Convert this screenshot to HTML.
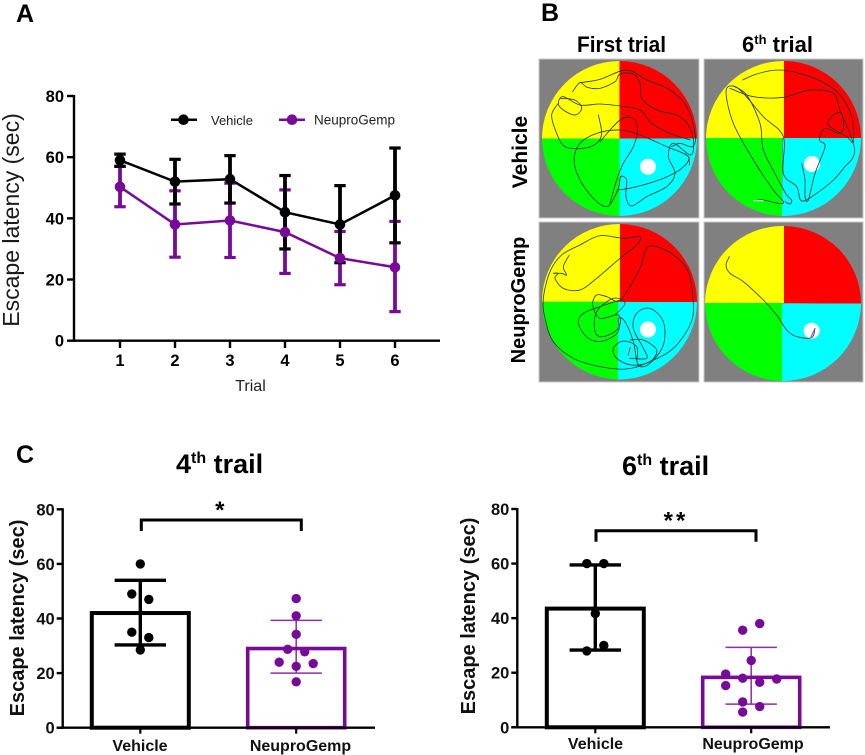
<!DOCTYPE html>
<html lang="en">
<head>
<meta charset="utf-8">
<title>Escape latency figure</title>
<style>
html,body{margin:0;padding:0;background:#fff;}
svg{display:block;font-family:"Liberation Sans",sans-serif;}
.track{fill:none;stroke:#24352c;stroke-width:2.4;stroke-linejoin:round;stroke-linecap:round;}
</style>
</head>
<body>
<svg id="figure" xmlns="http://www.w3.org/2000/svg" width="865" height="755" viewBox="0 0 865 755">
  <rect width="865" height="755" fill="#fff"/>
  <text x="16" y="22" font-size="25" font-weight="700">A</text>
  <text x="541" y="21" font-size="25" font-weight="700">B</text>
  <text x="16" y="463" font-size="25" font-weight="700">C</text>

  <g id="chartA"></g>

  <g>
    <text x="577" y="52" font-size="22" font-weight="700" textLength="89" lengthAdjust="spacingAndGlyphs">First trial</text>
    <text x="742" y="52" font-size="22" font-weight="700">6<tspan font-size="13" dy="-8">th</tspan><tspan dy="8"> trial</tspan></text>
    <text transform="translate(527,152) rotate(-90)" text-anchor="middle" font-size="21" font-weight="700">Vehicle</text>
    <text transform="translate(525,300) rotate(-90)" text-anchor="middle" font-size="20" font-weight="700">NeuproGemp</text>

    <g>
      <rect x="539" y="59" width="160" height="159" fill="#808080" stroke="#c8c8c8" stroke-width="1"/>
      <path d="M619.5 138.5V61A77.5 77.5 0 0 0 542 138.5Z" fill="#ffff00"/>
      <path d="M619.5 138.5V61A77.5 77.5 0 0 1 697 138.5Z" fill="#ff0000"/>
      <path d="M619.5 138.5H542A77.5 77.5 0 0 0 619.5 216Z" fill="#00ff00"/>
      <path d="M619.5 138.5H697A77.5 77.5 0 0 1 619.5 216Z" fill="#00ffff"/>
      <circle cx="648" cy="166.7" r="8" fill="#fff"/>
      <g transform="translate(500,0) scale(0.33333)">
        <polyline class="track" points="218,275 240,248 262,262 300,265 345,245 360,222 400,222 420,250 425,295 470,330 530,345 565,375 580,420 572,465 520,430 505,470 525,520 500,560 440,590 395,618 378,590 380,540 362,530 355,565 325,618 285,600 240,540 222,480 240,430 290,400 360,390 420,405 500,440 565,470 545,505 490,535 410,560 355,570"/>
        <polyline class="track" points="240,248 300,238 380,210 440,240 510,270 560,320 585,400 578,440 540,430 515,440"/>
        <polyline class="track" points="180,295 225,300 245,325 225,345 190,330 175,310 190,290 240,315 300,312 360,318 420,330 455,370 510,400 570,420"/>
        <polyline class="track" points="175,310 155,345 170,400 195,440 250,445 290,430 305,400 295,345"/>
        <polyline class="track" points="300,425 360,360 400,355 412,390 400,440 370,490 350,540 330,610"/>
        <path d="M568 472V496" stroke="#e33" stroke-width="3"/>
      </g>
    </g>

    <g>
      <rect x="704" y="59" width="159" height="159" fill="#808080" stroke="#c8c8c8" stroke-width="1"/>
      <path d="M784 138V61A77.5 77.5 0 0 0 706 138Z" fill="#ffff00"/>
      <path d="M784 138V61A77.5 77.5 0 0 1 861 138Z" fill="#ff0000"/>
      <path d="M784 138H706A78 78 0 0 0 782 216V138Z" fill="#00ff00"/>
      <path d="M783 138H861A78 78 0 0 1 782 216Z" fill="#00ffff"/>
      <circle cx="812" cy="164" r="8" fill="#fff"/>
      <g transform="translate(500,0) scale(0.33333)">
        <polyline class="track" points="728,240 770,222 830,210 890,218 965,245 1020,285 1055,350 1060,425 1040,410 985,375 1000,345 1025,340 1030,385 1015,400 975,385 958,420 975,440 945,520 925,600 915,590 915,540 905,490"/>
        <polyline class="track" points="690,265 760,290 850,292 930,270 1000,280 1020,330 1060,430 1060,470 1035,500 1000,540 950,580 905,603 890,560 850,520 850,410 790,350 730,280 700,258 678,275 700,370 760,480 820,570 850,605 835,610 790,600 765,602"/>
        <polyline class="track" points="700,258 740,285 780,370 790,450 830,530 860,585 875,600 870,612 855,605"/>
        <path d="M760 602H790" stroke="#d8d8ee" stroke-width="4"/>
      </g>
    </g>

    <g>
      <rect x="539" y="222" width="160" height="160" fill="#808080" stroke="#c8c8c8" stroke-width="1"/>
      <path d="M620 301.7V224A77.5 77.5 0 0 0 542 301.7Z" fill="#ffff00"/>
      <path d="M620 301.7V224A77.5 77.5 0 0 1 697 303Z" fill="#ff0000"/>
      <path d="M620 301.7H542A78 78 0 0 0 618 379.5V301.7Z" fill="#00ff00"/>
      <path d="M618 302H697A78 78 0 0 1 618 379.5Z" fill="#00ffff"/>
      <circle cx="648" cy="329.5" r="8" fill="#fff"/>
      <g transform="translate(500,215) scale(0.33333)">
        <polyline class="track" points="208,120 190,155 200,180 185,175 160,175 175,175 165,190 190,220 240,225 290,190 360,130 410,90 420,65 370,70 300,62 240,90 185,120 150,170 130,250 135,310 160,380 220,430 300,455 380,462 450,440 520,400 570,330 580,270 565,170 520,120 470,95 440,100 420,160 380,230 355,260 320,245 290,240 278,270 300,310 355,300 355,340 310,365 285,350 290,290 340,250 375,265 345,300"/>
        <polyline class="track" points="360,255 300,275 250,295 235,325 265,370 310,378 355,350 355,310 375,320 400,380 415,450 450,445 490,390 490,320 450,280 410,295 400,340 430,400 440,430 390,430"/>
        <polyline class="track" points="390,375 430,375 470,405 450,440 395,450 350,430 340,400 370,378 410,395 410,440"/>
        <path d="M384 422L391 396" stroke="#e33" stroke-width="3"/>
      </g>
    </g>

    <g>
      <rect x="704" y="222" width="159" height="160" fill="#808080" stroke="#c8c8c8" stroke-width="1"/>
      <path d="M784 303V226A77.5 77.5 0 0 0 705 303Z" fill="#ffff00"/>
      <path d="M784 303V226A77.5 77.5 0 0 1 861 304Z" fill="#ff0000"/>
      <path d="M784 303H705A78 78 0 0 0 782 381V303Z" fill="#00ff00"/>
      <path d="M782 303.5H861A78 78 0 0 1 782 381Z" fill="#00ffff"/>
      <circle cx="811.7" cy="330.7" r="8" fill="#fff"/>
      <g transform="translate(500,215) scale(0.33333)">
        <polyline class="track" points="688,125 678,150 690,175 730,200 790,255 830,300 860,345 890,365 935,368 945,340"/>
        <path d="M933 366L945 340" stroke="#6a4cd0" stroke-width="3"/>
      </g>
    </g>
  </g>

  <g id="chartC1"></g>
  <g id="chartC2"></g>
</svg>

<script>
// ---- Panel A data ----
const trialCategories = [1, 2, 3, 4, 5, 6];
const trialTicksY = [0, 20, 40, 60, 80];
const vehicleMeans = [59, 52, 52.8, 42, 38, 47.5];
const vehicleUpper = [61, 59.3, 60.5, 54, 50.7, 63];
const vehicleLower = [57, 44.7, 45, 30, 25.5, 32];
const neuproMeans = [50.3, 38, 39.3, 35.5, 27, 24];
const neuproUpper = [57, 49, 51.5, 49.3, 35.7, 39];
const neuproLower = [43.8, 27.3, 27.2, 22, 18.3, 9.5];

// ---- Panel C data ----
const barGroups = ['Vehicle', 'NeuproGemp'];
const barTicksY = [0, 20, 40, 60, 80];
const trail4Means = [42, 29];
const trail4Upper = [54, 39.3];
const trail4Lower = [30.3, 20];
const trail4VehicleDots = [60, 49, 47, 35, 33, 28.5];
const trail4VehicleSlots = [0, -1, 1, -1, 1, 0];
const trail4NeuproDots = [47.3, 41, 34.2, 28.7, 27.8, 24, 23.5, 22.5, 16.8];
const trail4NeuproSlots = [0, 0, 0, -1, 1, -2, 2, 0, 0];
const trail6Means = [43.5, 18.3];
const trail6Upper = [59.5, 29.3];
const trail6Lower = [28.3, 8.5];
const trail6VehicleDots = [60, 60, 41.7, 30, 28];
const trail6VehicleSlots = [-1, 1, 0, 1, -1];
const trail6NeuproDots = [38, 35.6, 24.5, 19.5, 18, 17.7, 16.5, 15.3, 9.3, 7.6, 5.6];
const trail6NeuproSlots = [1, -1, 0, -3, -1, 3, 1, -3, -1, 1, -1];

const NS = 'http://www.w3.org/2000/svg';
const BLACK = '#000';
const PURPLE = '#770a99';

function make(parent, tag, attrs, text) {
  const el = document.createElementNS(NS, tag);
  for (const k in attrs) el.setAttribute(k, attrs[k]);
  if (text !== undefined) el.textContent = text;
  parent.appendChild(el);
  return el;
}
function seg(parent, x1, y1, x2, y2, color, w) {
  return make(parent, 'line', {x1, y1, x2, y2, stroke: color, 'stroke-width': w});
}

// ---- Panel A ----
(function () {
  const root = document.getElementById('chartA');
  const yScale = v => 340.7 - v * (340.7 - 96) / 80;
  const xScale = t => 120 + (t - 1) * 55;

  const axisY = seg(root, 74, 95, 74, 342, BLACK, 2.4);
  
  
  const axisX = seg(root, 73, 340.7, 440, 340.7, BLACK, 2.4);
  
  

  trialTicksY.forEach(v => {
    const tick = seg(root, 67, yScale(v), 74, yScale(v), BLACK, 2.4);
    
    
    const label = make(root, 'text', {x: 64, y: yScale(v) + 6, 'text-anchor': 'end', 'font-size': 16.5, 'font-weight': 700}, v);
    
    
  });
  trialCategories.forEach(c => {
    const tick = seg(root, xScale(c), 340.7, xScale(c), 348, BLACK, 2.4);
    
    
    const label = make(root, 'text', {x: xScale(c), y: 366, 'text-anchor': 'middle', 'font-size': 16.5, 'font-weight': 700}, c);
    
    
  });

  const yTitle = make(root, 'text', {transform: 'translate(19,220) rotate(-90)', 'text-anchor': 'middle', 'font-size': 23, fill: '#1a1a1a'}, 'Escape latency (sec)');
  
  
  const xTitle = make(root, 'text', {x: 250.5, y: 391, 'text-anchor': 'middle', 'font-size': 16, fill: '#222'}, 'Trial');
  
  

  function errors(upper, lower, color) {
    trialCategories.forEach((c, i) => {
      const x = xScale(c);
      const g = make(root, 'g', {});
      
      
      seg(g, x, yScale(upper[i]), x, yScale(lower[i]), color, 3.8);
      seg(g, x - 5.7, yScale(upper[i]), x + 5.7, yScale(upper[i]), color, 3.2);
      seg(g, x - 5.7, yScale(lower[i]), x + 5.7, yScale(lower[i]), color, 3.2);
    });
  }
  function series(means, color) {
    const pts = trialCategories.map((c, i) => xScale(c) + ',' + yScale(means[i])).join(' ');
    const line = make(root, 'polyline', {points: pts, fill: 'none', stroke: color, 'stroke-width': 2.5});
    
    
    trialCategories.forEach((c, i) => {
      const dot = make(root, 'circle', {cx: xScale(c), cy: yScale(means[i]), r: 5.3, fill: color});
      
      
    });
  }
  errors(neuproUpper, neuproLower, PURPLE);
  errors(vehicleUpper, vehicleLower, BLACK);
  series(vehicleMeans, BLACK);
  series(neuproMeans, PURPLE);

  const legendA = make(root, 'g', {});
  
  
  seg(legendA, 171, 119.7, 197, 119.7, BLACK, 2.5);
  make(legendA, 'circle', {cx: 183.5, cy: 119.7, r: 5.3, fill: BLACK});
  make(legendA, 'text', {x: 211, y: 125, 'font-size': 13, fill: '#222'}, 'Vehicle');
  const legendB = make(root, 'g', {});
  
  
  seg(legendB, 279, 119.7, 305, 119.7, PURPLE, 2.5);
  make(legendB, 'circle', {cx: 292, cy: 119.7, r: 5.3, fill: PURPLE});
  make(legendB, 'text', {x: 314, y: 124.5, 'font-size': 13.5, fill: '#222'}, 'NeuproGemp');
})();

// ---- Panel C ----
function barChart(cfg) {
  const root = cfg.root;
  const yScale = v => cfg.y0 - v * (cfg.y0 - cfg.y80) / 80;
  const xCenter = i => cfg.centers[i];

  const axisY = seg(root, cfg.axisX, cfg.y80 - 1, cfg.axisX, cfg.y0 + 1, BLACK, 2.4);
  
  
  barTicksY.forEach(v => {
    const tick = seg(root, cfg.axisX - 6, yScale(v), cfg.axisX, yScale(v), BLACK, 2.4);
    
    
    const label = make(root, 'text', {x: cfg.axisX - 8, y: yScale(v) + 6, 'text-anchor': 'end', 'font-size': 16.5, 'font-weight': 700, fill: '#111'}, v);
    
    
  });

  const yTitle = make(root, 'text', {transform: 'translate(' + cfg.titleX + ',' + cfg.titleY + ') rotate(-90)', 'text-anchor': 'middle', 'font-size': 20, 'font-weight': 700, fill: '#111'}, 'Escape latency (sec)');
  
  

  const title = make(root, 'text', {x: cfg.headX, y: cfg.headY, 'font-size': 27, 'font-weight': 700});
  
  
  make(title, 'tspan', {}, cfg.headNum);
  make(title, 'tspan', {'font-size': 16, dy: -10}, 'th');
  make(title, 'tspan', {dy: 10}, ' trail');

  barGroups.forEach((name, i) => {
    const color = i === 0 ? BLACK : PURPLE;
    const x = xCenter(i);
    const bar = make(root, 'rect', {x: x - 48.5, y: yScale(cfg.means[i]), width: 97, height: cfg.y0 - yScale(cfg.means[i]), fill: 'none', stroke: color, 'stroke-width': i === 0 ? 4 : 3.6});
    
    

    const wob = i === 0 ? 3.4 : 1.5;
    const err = make(root, 'g', {opacity: i === 0 ? 1 : 0.85});
    
    
    seg(err, x, yScale(cfg.upper[i]), x, yScale(cfg.lower[i]), color, wob);
    seg(err, x - 25.7, yScale(cfg.upper[i]), x + 25.7, yScale(cfg.upper[i]), color, wob);
    seg(err, x - 25.7, yScale(cfg.lower[i]), x + 25.7, yScale(cfg.lower[i]), color, wob);

    cfg.dots[i].forEach((v, j) => {
      const dot = make(root, 'circle', {cx: x + cfg.slots[i][j] * 8.5, cy: yScale(v), r: 4.7, fill: color});
      
      
    });

    const tick = seg(root, x, cfg.y0, x, cfg.y0 + 6, BLACK, 2.2);
    
    
    const label = make(root, 'text', {x: cfg.labelX[i], y: cfg.labelY, 'text-anchor': 'middle', 'font-size': 16, 'font-weight': 700, fill: '#111'}, name);
    
    
  });

  const axisX = seg(root, cfg.axisX - 6, cfg.y0, cfg.axisEnd, cfg.y0, BLACK, 2.4);
  
  

  const bx1 = cfg.brX[0], bx2 = cfg.brX[1];
  const bracket = make(root, 'path', {d: 'M' + bx1 + ' ' + (cfg.brY + 11) + 'V' + cfg.brY + 'H' + bx2 + 'V' + (cfg.brY + 11), fill: 'none', stroke: BLACK, 'stroke-width': 3});
  
  
  const star = make(root, 'text', {x: (bx1 + bx2) / 2, y: cfg.brY - 2, 'text-anchor': 'middle', 'font-size': 24, 'font-weight': 700, 'letter-spacing': 3}, cfg.stars);
  
  
}

barChart({
  root: document.getElementById('chartC1'),
  y0: 727.7, y80: 509.3, axisX: 62.7, axisEnd: 375,
  centers: [140.3, 296.2], labelX: [140, 300.5], labelY: 751,
  means: trail4Means, upper: trail4Upper, lower: trail4Lower,
  dots: [trail4VehicleDots, trail4NeuproDots],
  slots: [trail4VehicleSlots, trail4NeuproSlots],
  titleX: 24, titleY: 618,
  headX: 176, headY: 473, headNum: '4',
  brX: [141.3, 301.3], brY: 520, stars: '*'
});
barChart({
  root: document.getElementById('chartC2'),
  y0: 727.3, y80: 509, axisX: 517.3, axisEnd: 830,
  centers: [595.3, 751.2], labelX: [595.5, 753], labelY: 749,
  means: trail6Means, upper: trail6Upper, lower: trail6Lower,
  dots: [trail6VehicleDots, trail6NeuproDots],
  slots: [trail6VehicleSlots, trail6NeuproSlots],
  titleX: 475, titleY: 616,
  headX: 622, headY: 475, headNum: '6',
  brX: [596, 756], brY: 530.7, stars: '**'
});

// Smooth the hand-traced swim tracks in the maze images
document.querySelectorAll('polyline.track').forEach(pl => {
  const p = pl.getAttribute('points').trim().split(/\s+/).map(s => s.split(',').map(Number));
  let d = 'M' + p[0][0] + ' ' + p[0][1];
  for (let i = 0; i < p.length - 1; i++) {
    const a = p[Math.max(i - 1, 0)], b = p[i], c = p[i + 1], e = p[Math.min(i + 2, p.length - 1)];
    d += 'C' + (b[0] + (c[0] - a[0]) / 6) + ' ' + (b[1] + (c[1] - a[1]) / 6) + ' ' +
         (c[0] - (e[0] - b[0]) / 6) + ' ' + (c[1] - (e[1] - b[1]) / 6) + ' ' + c[0] + ' ' + c[1];
  }
  const path = document.createElementNS(NS, 'path');
  path.setAttribute('d', d);
  path.setAttribute('class', 'track');
  
  
  pl.parentNode.replaceChild(path, pl);
});
</script>
</body>
</html>
